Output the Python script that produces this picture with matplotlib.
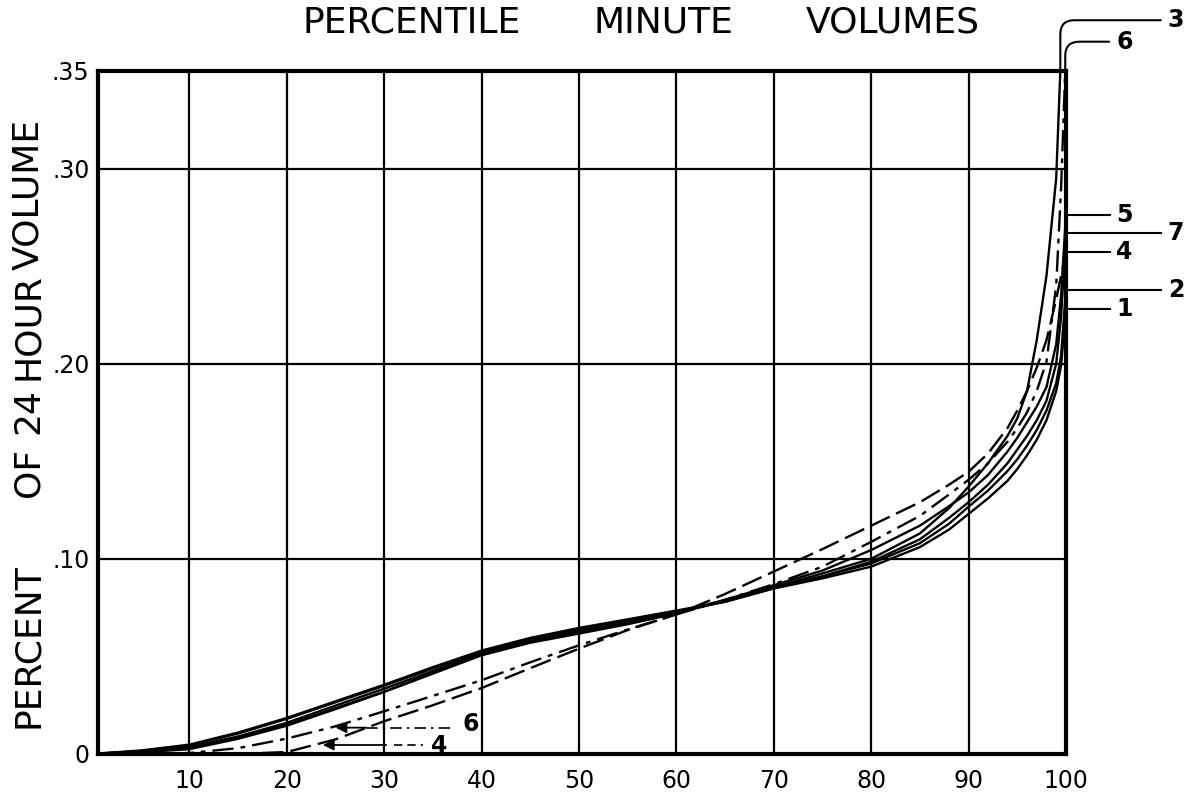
import matplotlib
matplotlib.use("Agg")
import matplotlib.pyplot as plt
import numpy as np

# percentile of minutes (x) and minute volume as percent of the 24 hour volume (y)
pct = [0, 5, 10, 15, 20, 25, 30, 35, 40, 45, 50, 55, 60, 65, 70, 75, 80, 85, 88, 90,
       92, 94, 95, 96, 97, 98, 99, 99.5, 100]

vol_1 = [0, .0018, .0048, .011, .0185, .027, .0355, .0445, .053, .0595, .0646, .069, .0735,
         .078, .0848, .090, .096, .106, .115, .123, .131, .140, .146, .153, .161, .171, .186,
         .199, .228]
vol_2 = [0, .0015, .0044, .0105, .018, .0265, .035, .0438, .0522, .059, .064, .0685, .073,
         .0785, .0855, .091, .0976, .108, .118, .1267, .135, .145, .151, .158, .166, .176, .19,
         .204, .238]
vol_3 = [0, .0008, .0025, .0078, .0145, .023, .0318, .0412, .0506, .057, .0617, .0665, .072,
         .0785, .0855, .0925, .100, .113, .126, .137, .149, .163, .172, .186, .212, .245, .295,
         .36, .40]
vol_4 = [0, 0, 0, 0, .001, .0075, .0168, .025, .0338, .044, .054, .0635, .0715, .082, .0935,
         .105, .117, .129, .138, .1446, .154, .167, .176, .186, .198, .212, .233, .245, .257]
vol_5 = [0, .0012, .003, .0085, .015, .0235, .032, .0415, .0508, .0575, .062, .0668, .0725,
         .079, .0865, .094, .1045, .117, .127, .134, .143, .155, .162, .17, .178, .188, .21,
         .235, .276]
vol_6 = [0, 0, .0005, .003, .0079, .0142, .0219, .0298, .0378, .047, .0557, .0638, .0715,
         .079, .087, .096, .1087, .122, .133, .1405, .149, .16, .167, .175, .186, .201, .24,
         .29, .36]
vol_7 = [0, .0014, .0035, .009, .016, .0248, .0335, .0425, .0515, .058, .063, .0675, .073,
         .078, .085, .091, .0985, .11, .121, .129, .138, .149, .156, .163, .171, .181, .2,
         .224, .267]

x_ticks = [10, 20, 30, 40, 50, 60, 70, 80, 90, 100]
y_ticks = [0, .10, .20, .30, .35]
y_tick_labels = ["0", ".10", ".20", ".30", ".35"]

plt.rcParams["font.family"] = "DejaVu Sans"

fig = plt.figure(figsize=(11.93, 7.92), dpi=100)
ax = fig.add_axes([0.0821, 0.048, 0.8114, 0.8624])
ax.set_xlim(0.6, 100)
ax.set_ylim(0, 0.35)

# ruled grid: every 10 percentiles, every .10 percent
for gx in x_ticks[:-1]:
    ax.axvline(gx, color="black", lw=1.6, zorder=1)
for gy in y_ticks[1:-1]:
    ax.axhline(gy, color="black", lw=1.6, zorder=1)
for spine in ax.spines.values():
    spine.set_linewidth(3)

ax.set_xticks(x_ticks)
ax.set_xticklabels([str(t) for t in x_ticks])
ax.set_yticks(y_ticks)
ax.set_yticklabels(y_tick_labels)
ax.tick_params(axis="both", length=0, labelsize=17)
ax.tick_params(axis="x", pad=11)
ax.tick_params(axis="y", pad=6)

series = [
    ("1", vol_1, "-"),
    ("2", vol_2, "-"),
    ("3", vol_3, "-"),
    ("4", vol_4, (0, (9, 3))),
    ("5", vol_5, "-"),
    ("6", vol_6, (0, (9, 3, 2, 3))),
    ("7", vol_7, "-"),
]
for name, vals, ls in series:
    ax.plot(pct, vals, color="black", lw=1.7, linestyle=ls, zorder=3)

# end-of-curve labels on the right edge
short_end, long_end = 104.5, 109.8
right_leaders = {"5": short_end, "7": long_end, "4": short_end, "2": long_end, "1": short_end}
for name, vals, _ in series:
    if name not in right_leaders:
        continue
    end = right_leaders[name]
    ax.plot([100, end], [vals[-1], vals[-1]], color="black", lw=1.5, clip_on=False)
    ax.text(end + 1.5, vals[-1], name, fontsize=17, fontweight="bold", ha="center", va="center")

# curves 3 and 6 run off the top of the grid
for name, vals, label_xy in [("3", vol_3, (111.3, 0.376)), ("6", vol_6, (106.0, 0.365))]:
    x_top = np.interp(0.35, vals, pct)
    ax.annotate(name, xy=(x_top, 0.35), xytext=label_xy, fontsize=17, fontweight="bold",
                ha="center", va="center", annotation_clip=False,
                arrowprops=dict(arrowstyle="-", color="black", lw=1.5, shrinkA=3, shrinkB=0,
                                connectionstyle="angle,angleA=0,angleB=90,rad=14"))

# labels with arrows for the two low curves on the left
ax.annotate("", xy=(25.0, 0.0135), xytext=(28.1, 0.0135),
            arrowprops=dict(arrowstyle="-|>", color="black", lw=1.3, mutation_scale=16,
                            shrinkA=0, shrinkB=0))
ax.plot([28.1, 37.1], [0.0135, 0.0135], color="black", lw=1.2, linestyle=(0, (7, 3, 1.5, 3)))
ax.text(38.9, 0.0154, "6", fontsize=17, fontweight="bold", ha="center", va="center")

ax.annotate("", xy=(23.7, 0.0046), xytext=(30.2, 0.0046),
            arrowprops=dict(arrowstyle="-|>", color="black", lw=1.3, mutation_scale=16,
                            shrinkA=0, shrinkB=0))
ax.plot([31.0, 34.0], [0.0046, 0.0046], color="black", lw=1.2, linestyle=(0, (5, 3)))
ax.text(35.6, 0.0041, "4", fontsize=17, fontweight="bold", ha="center", va="center")

# hand-lettered title and axis caption, set word by word
for word, fx in [("PERCENTILE", 0.345), ("MINUTE", 0.556), ("VOLUMES", 0.748)]:
    fig.text(fx, 0.972, word, fontsize=26, ha="center", va="center")
for word, fy in [("PERCENT", 0.185), ("OF", 0.403), ("24", 0.481), ("HOUR", 0.588),
                 ("VOLUME", 0.755)]:
    fig.text(0.0235, fy, word, fontsize=26, rotation=90, ha="center", va="center")

fig.savefig("out.png", dpi=100)
